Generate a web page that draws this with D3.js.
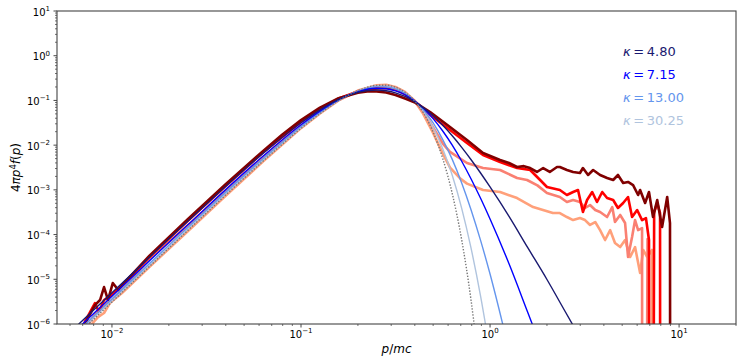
<!DOCTYPE html>
<html><head><meta charset="utf-8">
<script src="https://cdn.jsdelivr.net/npm/d3@7"></script>
<style>
body{margin:0;background:#fff;}
svg text{font-family:"DejaVu Sans",sans-serif;}
</style></head><body>
<svg id="c" width="747" height="360"></svg>
<script>
// ---------- data ----------
// model curves (kappa distributions + Maxwellian), shared momentum grid
const pModel = [0.00631, 0.01, 0.0251, 0.0631, 0.1, 0.126, 0.158, 0.2, 0.251, 0.282, 0.316, 0.355, 0.398, 0.447, 0.501, 0.562, 0.631, 0.708, 0.794, 0.891, 1.0, 1.26, 1.58, 2.0, 2.51, 3.16];
const kappa480 = [7.96e-7, 5.01e-6, 1.95e-4, 6.59e-3, 3.16e-2, 6.14e-2, 0.105, 0.151, 0.171, 0.165, 0.148, 0.123, 9.44e-2, 6.73e-2, 4.47e-2, 2.77e-2, 1.62e-2, 8.93e-3, 4.71e-3, 2.38e-3, 1.16e-3, 2.55e-4, 5.16e-5, 9.89e-6, 1.83e-6, 3.31e-7];
const kappa715 = [6.65e-7, 4.19e-6, 1.63e-4, 5.70e-3, 2.85e-2, 5.75e-2, 0.103, 0.157, 0.187, 0.183, 0.164, 0.134, 9.84e-2, 6.52e-2, 3.87e-2, 2.07e-2, 9.98e-3, 4.37e-3, 1.75e-3, 6.47e-4, 2.23e-4, 2.22e-5, 1.86e-6, 1.38e-7];
const kappa1300 = [5.75e-7, 3.62e-6, 1.42e-4, 5.05e-3, 2.61e-2, 5.42e-2, 0.101, 0.161, 0.201, 0.200, 0.179, 0.143, 0.100, 6.04e-2, 3.09e-2, 1.33e-2, 4.80e-3, 1.43e-3, 3.56e-4, 7.43e-5, 1.31e-5, 2.59e-7];
const kappa3025 = [5.26e-7, 3.32e-6, 1.30e-4, 4.68e-3, 2.47e-2, 5.21e-2, 9.95e-2, 0.163, 0.210, 0.211, 0.189, 0.149, 9.95e-2, 5.52e-2, 2.44e-2, 8.34e-3, 2.12e-3, 3.86e-4, 4.90e-5, 4.22e-6, 2.42e-7];
const maxwell = [4.94e-7, 3.11e-6, 1.22e-4, 4.43e-3, 2.37e-2, 5.06e-2, 9.84e-2, 0.164, 0.217, 0.219, 0.197, 0.152, 9.82e-2, 5.01e-2, 1.905e-2, 5.01e-3, 8.26e-4, 7.59e-5, 3.33e-6, 5.75e-8];

// simulation spectra (0 = empty bin)
const pDarkRed = [6.92e-3, 7.46e-3, 8.13e-3, 8.65e-3, 9.08e-3, 9.53e-3, 1.01e-2, 1.08e-2, 1.17e-2, 0.0158, 0.0251, 0.0398, 0.0631, 0.0794, 0.1, 0.126, 0.158, 0.2, 0.224, 0.251, 0.282, 0.316, 0.355, 0.398, 0.482, 0.614, 0.755, 0.918, 1.13, 1.26, 1.39, 1.51, 1.63, 1.77, 1.91, 2.07, 2.26, 2.34, 2.55, 2.75, 2.99, 3.10, 3.30, 3.51, 3.82, 4.16, 4.48, 4.75, 5.06, 5.37, 5.71, 6.07, 6.22, 6.61, 6.93, 7.28, 7.66, 8.13, 8.65, 8.95, 9.08];
const vDarkRed = [6.0e-7, 1.36e-6, 2.65e-6, 3.44e-6, 6.71e-6, 3.44e-6, 8.24e-6, 5.75e-6, 8.69e-6, 3.39e-5, 2.19e-4, 1.32e-3, 7.41e-3, 1.70e-2, 3.63e-2, 6.92e-2, 0.112, 0.148, 0.158, 0.158, 0.151, 0.132, 0.110, 9.12e-2, 5.51e-2, 2.54e-2, 1.30e-2, 6.67e-3, 4.65e-3, 3.98e-3, 3.24e-3, 3.39e-3, 3.08e-3, 2.51e-3, 3.08e-3, 2.51e-3, 3.24e-3, 3.24e-3, 2.78e-3, 2.51e-3, 2.38e-3, 3.08e-3, 2.15e-3, 2.78e-3, 2.15e-3, 1.84e-3, 1.66e-3, 2.15e-3, 1.42e-3, 1.50e-3, 1.28e-3, 7.67e-4, 9.91e-4, 5.08e-4, 8.95e-4, 2.47e-4, 5.93e-4, 1.48e-4, 6.92e-4, 1.81e-4, 0];
const pRed = [6.92e-3, 7.19e-3, 7.66e-3, 8.13e-3, 8.53e-3, 9.08e-3, 9.75e-3, 1.08e-2, 0.0158, 0.0251, 0.0398, 0.0631, 0.1, 0.126, 0.158, 0.2, 0.251, 0.282, 0.316, 0.355, 0.398, 0.499, 0.614, 0.755, 0.918, 1.13, 1.39, 1.63, 1.84, 2.00, 2.34, 2.55, 2.75, 2.92, 3.10, 3.26, 3.47, 3.68, 3.92, 4.16, 4.48, 4.75, 5.06, 5.37, 5.64, 6.00, 6.37, 6.68, 6.93, 7.08, 7.38, 7.66, 7.93, 7.98];
const vRed = [5.01e-7, 1.11e-6, 1.85e-6, 2.94e-6, 1.85e-6, 3.44e-6, 4.23e-6, 6.03e-6, 3.16e-5, 2.00e-4, 1.20e-3, 6.92e-3, 3.31e-2, 6.46e-2, 0.110, 0.158, 0.186, 0.191, 0.174, 0.138, 9.77e-2, 4.26e-2, 2.18e-2, 1.12e-2, 6.01e-3, 4.20e-3, 3.08e-3, 2.78e-3, 1.66e-3, 1.16e-3, 9.91e-4, 7.67e-4, 8.95e-4, 9.91e-4, 3.19e-4, 5.93e-4, 8.95e-4, 5.35e-4, 8.95e-4, 6.56e-4, 5.93e-4, 3.93e-4, 5.08e-4, 6.92e-4, 2.47e-4, 3.54e-4, 2.11e-4, 2.34e-4, 7.55e-5, 0, 3.16e-4, 5.08e-4, 3.03e-4, 0];
const pSalmon = [7.24e-3, 8.13e-3, 8.65e-3, 9.29e-3, 0.01, 1.10e-2, 0.0158, 0.0251, 0.0398, 0.0631, 0.1, 0.126, 0.158, 0.2, 0.251, 0.282, 0.316, 0.355, 0.398, 0.448, 0.499, 0.564, 0.614, 0.755, 0.918, 1.13, 1.39, 1.57, 1.78, 2.00, 2.34, 2.55, 2.75, 2.99, 3.18, 3.38, 3.60, 3.82, 4.16, 4.43, 4.58, 4.88, 5.18, 5.37, 5.64, 5.85, 6.07, 6.37, 6.41, 6.81, 6.85];
const vSalmon = [7.94e-7, 1.67e-6, 2.28e-6, 2.80e-6, 3.44e-6, 5.19e-6, 2.82e-5, 1.58e-4, 9.33e-4, 5.37e-3, 2.69e-2, 5.50e-2, 0.102, 0.162, 0.204, 0.209, 0.191, 0.148, 9.77e-2, 5.50e-2, 2.51e-2, 1.07e-2, 7.08e-3, 3.98e-3, 3.08e-3, 2.78e-3, 1.84e-3, 1.66e-3, 1.26e-3, 8.49e-4, 6.92e-4, 5.35e-4, 5.93e-4, 5.35e-4, 3.93e-4, 4.58e-4, 3.54e-4, 3.19e-4, 2.47e-4, 4.13e-4, 1.91e-4, 2.74e-4, 1.81e-4, 3.15e-5, 8.81e-5, 2.11e-4, 1.26e-4, 1.40e-4, 0, 7.94e-5, 0];
const pLightSalmon = [7.59e-3, 7.83e-3, 8.43e-3, 9.08e-3, 9.75e-3, 1.05e-2, 1.13e-2, 0.0158, 0.0251, 0.0398, 0.0631, 0.1, 0.126, 0.158, 0.2, 0.251, 0.282, 0.316, 0.355, 0.398, 0.443, 0.499, 0.564, 0.614, 0.693, 0.755, 0.918, 1.13, 1.39, 1.69, 2.15, 2.34, 2.55, 2.75, 2.99, 3.18, 3.38, 3.60, 3.82, 4.06, 4.32, 4.58, 4.88, 5.18, 5.51, 5.85, 6.22, 6.46, 6.78, 7.19, 7.24];
const vLightSalmon = [6.31e-7, 1.00e-6, 1.43e-6, 1.76e-6, 2.94e-6, 3.81e-6, 4.93e-6, 1.91e-5, 1.17e-4, 7.24e-4, 4.37e-3, 2.40e-2, 5.13e-2, 0.100, 0.166, 0.219, 0.224, 0.200, 0.155, 0.100, 5.01e-2, 1.91e-2, 6.31e-3, 3.16e-3, 1.82e-3, 1.38e-3, 9.91e-4, 8.95e-4, 6.56e-4, 4.13e-4, 3.03e-4, 3.03e-4, 2.47e-4, 2.11e-4, 2.34e-4, 2.11e-4, 1.64e-4, 1.91e-4, 1.26e-4, 7.55e-5, 1.26e-4, 6.47e-5, 5.26e-5, 7.55e-5, 3.15e-5, 5.26e-5, 1.38e-5, 4.52e-5, 3.15e-5, 4.52e-5, 0];

const kappaLabels = ["4.80", "7.15", "13.00", "30.25"];
const xTicks = [0.01, 0.1, 1, 10];
const xTickExp = ["\u22122", "\u22121", "0", "1"];
const yTicks = [1e-6, 1e-5, 1e-4, 1e-3, 1e-2, 1e-1, 1, 10];
const yTickExp = ["\u22126", "\u22125", "\u22124", "\u22123", "\u22122", "\u22121", "0", "1"];

// ---------- layout ----------
const m = {l: 57, r: 736, t: 11, b: 324};
const x = d3.scaleLog().domain([5.12e-3, 20]).range([m.l, m.r]);
const y = d3.scaleLog().domain([1e-6, 10]).range([m.b, m.t]);
const svg = d3.select("#c");
svg.append("rect").attr("width", 747).attr("height", 360).attr("fill", "#fff");
svg.append("defs").append("clipPath").attr("id", "clip")
  .append("rect").attr("x", m.l).attr("y", m.t).attr("width", m.r - m.l).attr("height", m.b - m.t);

const FLOOR = 1e-30;
const zipData = (ps, vs) => d3.zip(ps, vs).map(([p, v]) => ({p, v}));
const lineSim = d3.line().x(d => x(d.p)).y(d => y(Math.max(d.v, FLOOR)));
const lineModel = d3.line().x(d => x(d.p)).y(d => y(d.v)).curve(d3.curveMonotoneX);

const plot = svg.append("g").attr("clip-path", "url(#clip)");

const sims = [
  {p: pLightSalmon, v: vLightSalmon, c: "#ffa07a"},
  {p: pSalmon, v: vSalmon, c: "#fa8072"},
  {p: pRed, v: vRed, c: "#ff0000"},
  {p: pDarkRed, v: vDarkRed, c: "#800000"}
];
sims.forEach(s => {
  plot.append("path").datum(zipData(s.p, s.v))
    .attr("d", lineSim).attr("fill", "none").attr("stroke", s.c)
    .attr("stroke-width", 2.6).attr("stroke-linejoin", "round");
});

const models = [
  {v: kappa3025, c: "#b0c4de"},
  {v: kappa1300, c: "#6495ed"},
  {v: kappa715, c: "#0000ff"},
  {v: kappa480, c: "#191970"}
];
models.forEach(s => {
  plot.append("path").datum(zipData(pModel, s.v))
    .attr("d", lineModel).attr("fill", "none").attr("stroke", s.c)
    .attr("stroke-width", 1.4);
});
plot.append("path").datum(zipData(pModel, maxwell))
  .attr("d", lineModel).attr("fill", "none").attr("stroke", "#777")
  .attr("stroke-width", 1.4).attr("stroke-dasharray", "1.4,1.6");

// ---------- axes ----------
function minorTicks(dom) {
  const out = [];
  const k0 = Math.floor(Math.log10(dom[0])), k1 = Math.ceil(Math.log10(dom[1]));
  for (let k = k0; k <= k1; k++) for (let j = 2; j <= 9; j++) {
    const t = j * Math.pow(10, k);
    if (t >= dom[0] && t <= dom[1]) out.push(t);
  }
  return out;
}
const axCol = "#333";
const gx = svg.append("g");
xTicks.forEach(t => gx.append("line").attr("x1", x(t)).attr("x2", x(t)).attr("y1", m.b).attr("y2", m.b + 3.5).attr("stroke", axCol).attr("stroke-width", 0.9));
minorTicks(x.domain()).forEach(t => gx.append("line").attr("x1", x(t)).attr("x2", x(t)).attr("y1", m.b).attr("y2", m.b + 2).attr("stroke", axCol).attr("stroke-width", 0.7));
xTicks.forEach((t, i) => {
  const tx = gx.append("text").attr("x", x(t)).attr("y", 337.5).attr("text-anchor", "middle").attr("font-size", 10).attr("fill", "#000");
  tx.append("tspan").text("10");
  tx.append("tspan").attr("dy", -4.5).attr("font-size", 7).text(xTickExp[i]);
});
const gy = svg.append("g");
yTicks.forEach(t => gy.append("line").attr("x1", m.l - 3.5).attr("x2", m.l).attr("y1", y(t)).attr("y2", y(t)).attr("stroke", axCol).attr("stroke-width", 0.9));
minorTicks(y.domain()).forEach(t => gy.append("line").attr("x1", m.l - 2).attr("x2", m.l).attr("y1", y(t)).attr("y2", y(t)).attr("stroke", axCol).attr("stroke-width", 0.7));
yTicks.forEach((t, i) => {
  const tx = gy.append("text").attr("x", 50).attr("y", y(t) + 4.5).attr("text-anchor", "end").attr("font-size", 10).attr("fill", "#000");
  tx.append("tspan").text("10");
  tx.append("tspan").attr("dy", -4.5).attr("font-size", 7).text(yTickExp[i]);
});

// frame
svg.append("rect").attr("x", m.l).attr("y", m.t).attr("width", m.r - m.l).attr("height", m.b - m.t)
  .attr("fill", "none").attr("stroke", "#444").attr("stroke-width", 1.1);

// axis labels
const xl = svg.append("text").attr("x", (m.l + m.r) / 2).attr("y", 353).attr("text-anchor", "middle").attr("font-size", 12);
xl.append("tspan").attr("font-style", "italic").text("p");
xl.append("tspan").text("/");
xl.append("tspan").attr("font-style", "italic").text("mc");

const yl = svg.append("text").attr("transform", `translate(20,${(m.t + m.b) / 2}) rotate(-90)`).attr("text-anchor", "middle").attr("font-size", 12);
yl.append("tspan").text("4");
yl.append("tspan").attr("font-style", "italic").text("\u03C0p");
yl.append("tspan").attr("dy", -4.5).attr("font-size", 8.5).text("4");
yl.append("tspan").attr("dy", 4.5).attr("font-style", "italic").text("f");
yl.append("tspan").text("(");
yl.append("tspan").attr("font-style", "italic").text("p");
yl.append("tspan").text(")");

// legend (coloured text only)
const legCols = ["#191970", "#0000ff", "#6495ed", "#b0c4de"];
kappaLabels.forEach((lab, i) => {
  const t = svg.append("text").attr("x", 623).attr("y", 55.5 + i * 23.2).attr("font-size", 13).attr("fill", legCols[i]);
  t.append("tspan").attr("font-style", "italic").text("\u03BA");
  t.append("tspan").text("\u2009=\u2009" + lab);
});
</script>
</body></html>
